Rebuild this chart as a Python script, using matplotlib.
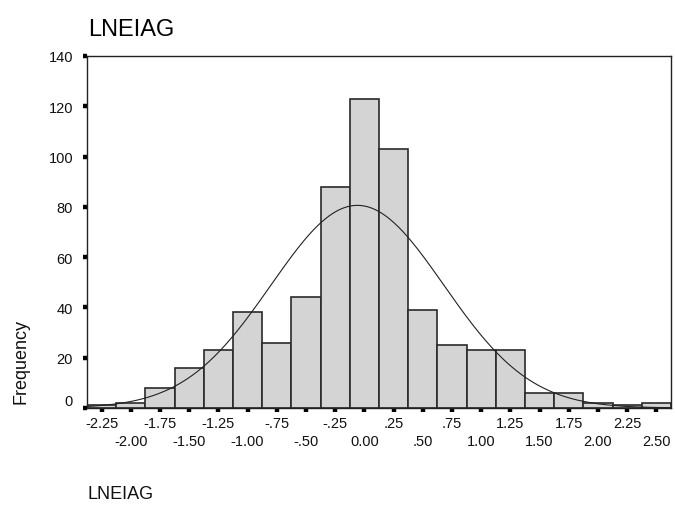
import numpy as np
import matplotlib
matplotlib.use("Agg")
import matplotlib.pyplot as plt
import matplotlib.transforms as mtransforms

# ---- data ----
bin_centers = [-2.25, -2.00, -1.75, -1.50, -1.25, -1.00, -0.75, -0.50, -0.25, 0.00,
               0.25, 0.50, 0.75, 1.00, 1.25, 1.50, 1.75, 2.00, 2.25, 2.50]
counts = [1, 2, 8, 16, 23, 38, 26, 44, 88, 123,
          103, 39, 25, 23, 23, 6, 6, 2, 1, 2]
x_tick_labels = ["-2.25", "-2.00", "-1.75", "-1.50", "-1.25", "-1.00", "-.75", "-.50", "-.25", "0.00",
                 ".25", ".50", ".75", "1.00", "1.25", "1.50", "1.75", "2.00", "2.25", "2.50"]
y_ticks = [0, 20, 40, 60, 80, 100, 120, 140]
bin_width = 0.25
curve_mean = -0.06
curve_sd = 0.74
curve_n = 598
title = "LNEIAG"
x_title = "LNEIAG"
y_title = "Frequency"

plt.rcParams['font.family'] = ['Liberation Sans', 'DejaVu Sans']

W, H = 675, 510
fig = plt.figure(figsize=(W / 100, H / 100), dpi=100)
ax = fig.add_axes([87 / W, 1 - 409 / H, (671 - 87) / W, (409 - 57) / H])

ax.bar(bin_centers, counts, width=bin_width, color='#d4d4d4',
       edgecolor='#2a2a2a', linewidth=1.2, zorder=2)

xs = np.linspace(bin_centers[0] - bin_width / 2, bin_centers[-1] + bin_width / 2, 400)
ys = curve_n * bin_width / (curve_sd * np.sqrt(2 * np.pi)) * np.exp(-(xs - curve_mean) ** 2 / (2 * curve_sd ** 2))
ax.plot(xs, ys, color='#222222', linewidth=0.8, zorder=3)

ax.set_xlim(bin_centers[0] - bin_width / 2, bin_centers[-1] + bin_width / 2)
ax.set_ylim(0, 140)

ax.set_xticks(bin_centers)
ax.set_xticklabels(x_tick_labels)
ax.set_yticks(y_ticks)
ax.set_yticklabels([str(v) for v in y_ticks])

ax.tick_params(axis='both', direction='out', length=3, width=3.2, color='black',
               labelsize=10.5, labelcolor='#111111')
ax.tick_params(axis='x', pad=3)
ax.tick_params(axis='y', pad=7)

# alternate x labels in two rows
for i, tick in enumerate(ax.xaxis.get_major_ticks()):
    tick.set_pad(3 if i % 2 == 0 else 15.5)

# raise the "0" label a little, like the reference
for lab in ax.get_yticklabels():
    if lab.get_text() == "0":
        lab.set_transform(lab.get_transform() + mtransforms.ScaledTranslation(0, 8 / 100, fig.dpi_scale_trans))

for s in ax.spines.values():
    s.set_linewidth(1.0)
    s.set_color('#222222')

fig.text(88 / W, 1 - 30 / H, title, fontsize=17, va='center', ha='left', color='black')
fig.text(88 / W, 1 - 495 / H, x_title, fontsize=13, va='center', ha='left', color='#111111')
fig.text(21 / W, 1 - 362 / H, y_title, fontsize=13, va='center', ha='center',
         rotation=90, color='#111111')

fig.savefig("out.png", dpi=100, facecolor='white')
